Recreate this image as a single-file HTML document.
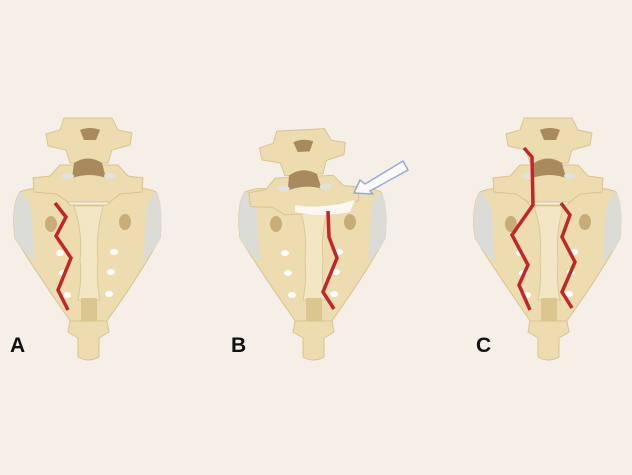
<!DOCTYPE html>
<html><head><style>
html,body{margin:0;padding:0;background:#f6efe7;}
svg{display:block}
text{font-family:"Liberation Sans",sans-serif;font-weight:bold;font-size:21px;fill:#111}
</style></head><body>
<svg width="632" height="475" viewBox="0 0 632 475" xmlns="http://www.w3.org/2000/svg">
<rect width="632" height="475" fill="#f6efe7"/>
<defs>
<g id="sac">
 <path d="M20,192 Q38,184 60,194 L70,205 L107,205 L117,194 Q140,184 156,192 Q163,205 160,238 Q140,275 106,322 L71,322 Q38,275 15,238 Q11,205 20,192 Z" fill="#ecdcb0" stroke="#d8c48f" stroke-width="1"/>
 <path d="M20,192 Q11,205 15,238 Q22,252 35,262 L32,215 Q30,198 20,192 Z" fill="#dcdcd6"/>
 <path d="M156,192 Q164,205 160,238 Q154,252 143,262 L146,215 Q148,198 156,192 Z" fill="#dcdcd6"/>
 <path d="M74,206 L103,206 L100,220 Q96,240 98,260 Q96,280 100,300 L78,300 Q82,280 80,260 Q82,240 78,220 Z" fill="#f2e6c4" stroke="#dcc895" stroke-width="1"/>
 <rect x="81" y="298" width="16" height="24" fill="#dcc68f"/>
 <ellipse cx="51" cy="224" rx="6" ry="8" fill="#c8ad78"/>
 <ellipse cx="125" cy="222" rx="6" ry="8" fill="#c8ad78"/>
 <ellipse cx="60" cy="253" rx="4" ry="3" fill="#fff"/>
 <ellipse cx="63" cy="273" rx="4" ry="3" fill="#fff"/>
 <ellipse cx="67" cy="295" rx="4" ry="3" fill="#fff"/>
 <ellipse cx="114" cy="252" rx="4" ry="3" fill="#fff"/>
 <ellipse cx="111" cy="272" rx="4" ry="3" fill="#fff"/>
 <ellipse cx="109" cy="294" rx="4" ry="3" fill="#fff"/>
 <path d="M70,321 L107,321 L109,332 L99,338 L99,357 Q88,363 78,357 L78,338 L68,332 Z" fill="#ecdcb0" stroke="#d8c48f" stroke-width="1"/>
</g>
<g id="vert">
 <path d="M64,118 L112,118 L118,130 L132,133 L130,145 L112,150 L108,163 L70,163 L66,150 L48,146 L46,134 L60,130 Z" fill="#ecdcb0" stroke="#d8c48f" stroke-width="1"/>
 <path d="M80,130 Q90,126 100,130 L96,140 L84,140 Z" fill="#a88a5c"/>
 <path d="M60,165 L118,165 L128,176 L143,178 L142,192 L120,194 L110,202 L68,202 L56,194 L34,192 L33,178 L50,176 Z" fill="#ecdcb0" stroke="#d8c48f" stroke-width="1"/>
 <path d="M74,163 Q88,154 102,163 L106,178 Q90,172 72,178 Z" fill="#a88a5c"/>
 <ellipse cx="68" cy="176" rx="6" ry="3" fill="#e4e2de"/>
 <ellipse cx="110" cy="176" rx="6" ry="3" fill="#e4e2de"/>
</g>
</defs>
<use href="#sac"/>
<use href="#vert"/>
<use href="#sac" transform="translate(225,0)"/>
<use href="#vert" transform="translate(215,0) rotate(-3 313 170)"/>
<path d="M295,205 Q320,210 355,200 L350,212 Q320,218 295,212 Z" fill="#fbf7f1"/>
<use href="#sac" transform="translate(460,0)"/>
<use href="#vert" transform="translate(460,0)"/>
<g fill="none" stroke="#c0262a" stroke-width="3.5" stroke-linejoin="miter">
<polyline points="55,203 66,217 56,236 71,258 58,290 68,310"/>
<polyline points="328,211 329,237 337,258 323,292 334,309"/>
<polyline points="524,148 532,157 533,205 512,235 528,265 519,285 530,310"/>
<polyline points="561,203 570,215 562,237 575,262 562,292 572,308"/>
</g>
<polygon points="354,193 360,180 365,184 403,161 408,170 370,191 373,194" fill="#fbfbfd" stroke="#9aaad6" stroke-width="1.5" stroke-linejoin="round"/>
<text x="10" y="352">A</text>
<text x="231" y="352">B</text>
<text x="476" y="352">C</text>
</svg>
</body></html>
